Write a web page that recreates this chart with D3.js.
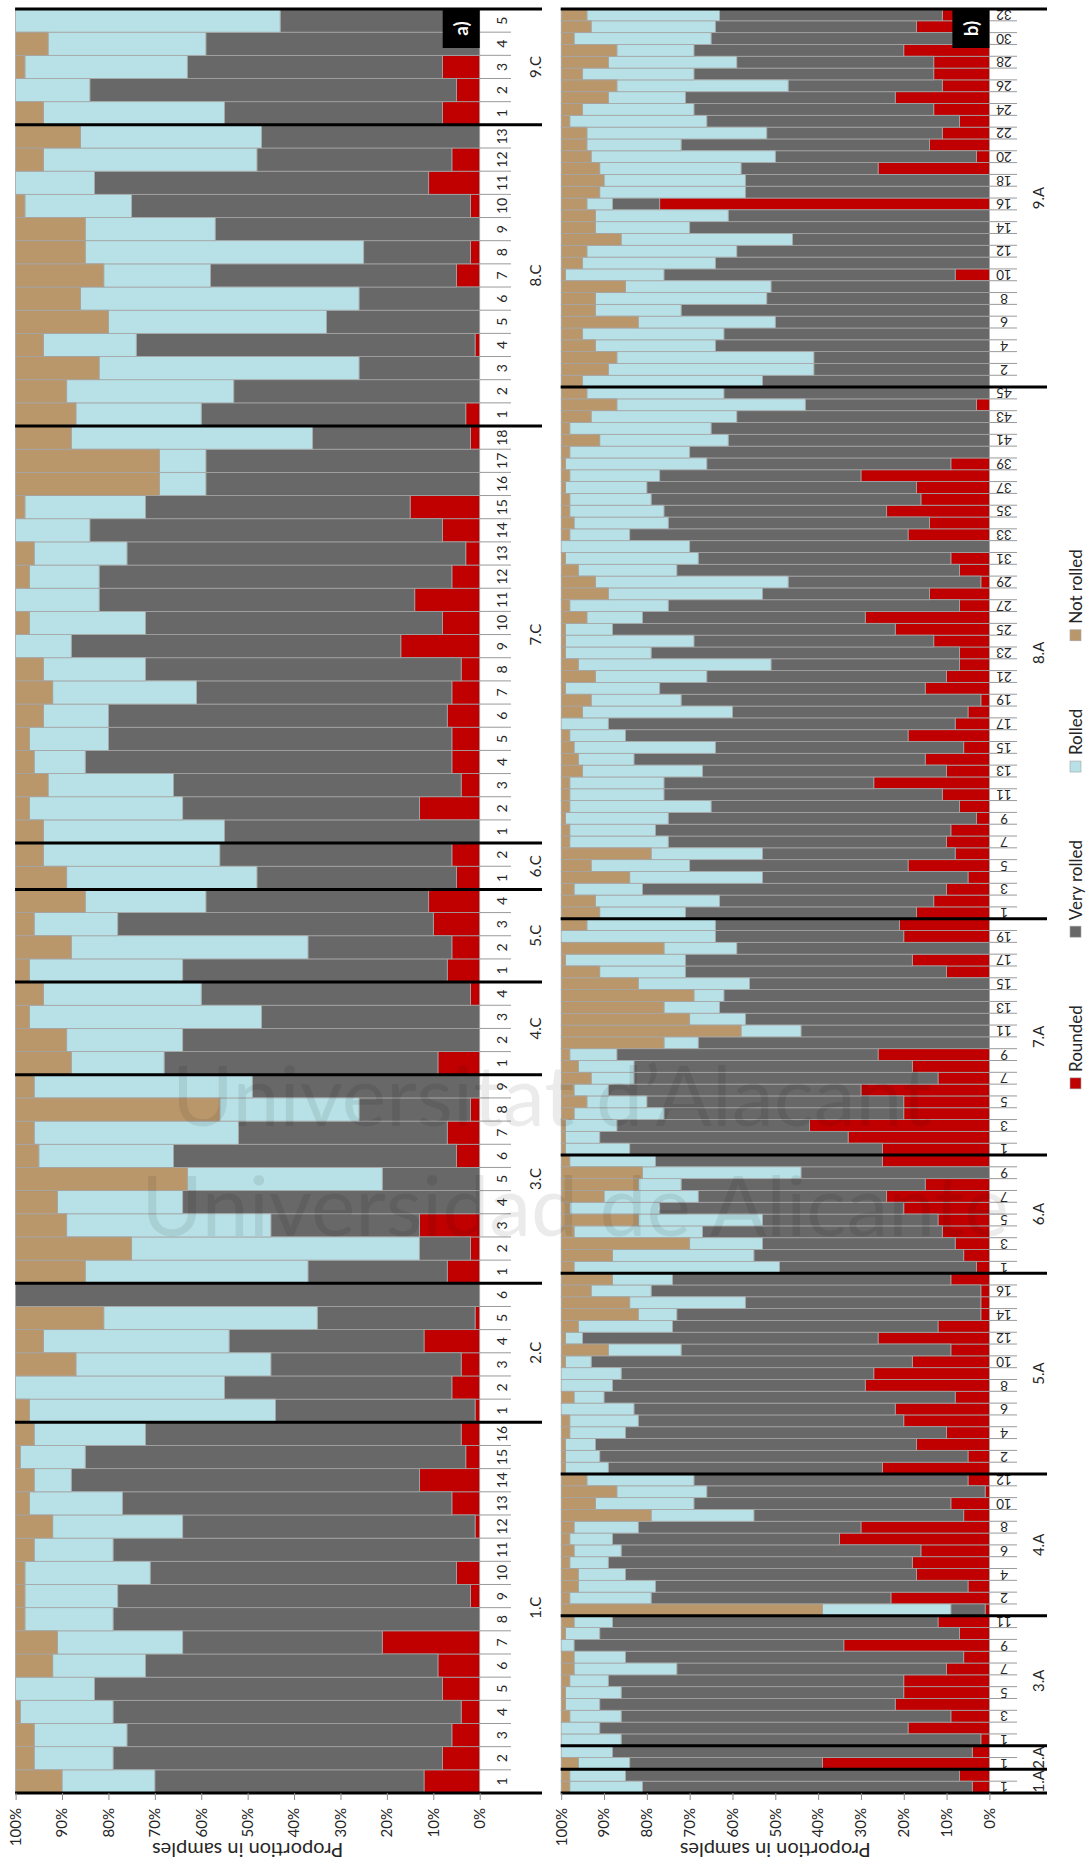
<!DOCTYPE html>
<html>
<head>
<meta charset="utf-8">
<script src="https://cdn.jsdelivr.net/npm/d3@7"></script>
<style>
  body { margin: 0; background: #fff; }
  svg { display: block; }
  text { font-family: Lato, "Open Sans", "DejaVu Sans", sans-serif; fill: #262626; }
</style>
</head>
<body>
<svg id="chart" width="1086" height="1868"></svg>
<script>
// ---- series ----
const seriesKeys = ["rounded", "veryRolled", "rolled", "notRolled"];
const seriesNames = ["Rounded", "Very rolled", "Rolled", "Not rolled"];
const seriesColors = ["#c00000", "#686868", "#b7e1e6", "#b9976b"];
const valueTicks = [0, 10, 20, 30, 40, 50, 60, 70, 80, 90, 100];

// ---- panel a: C samples ----
const groupsA = ["1.C", "2.C", "3.C", "4.C", "5.C", "6.C", "7.C", "8.C", "9.C"];
const groupSizesA = [16, 6, 9, 4, 4, 2, 18, 13, 5];
const roundedA = [
  12, 8, 6, 4, 8, 9, 21, 0, 2, 5, 0, 1, 6, 13, 3, 4,
  1, 6, 4, 12, 1, 0,
  7, 2, 13, 0, 0, 5, 7, 2, 0,
  9, 0, 0, 2,
  7, 6, 10, 11,
  5, 6,
  0, 13, 4, 6, 6, 7, 6, 4, 17, 8, 14, 6, 3, 8, 15, 0, 0, 2,
  3, 0, 0, 1, 0, 0, 5, 2, 0, 2, 11, 6, 0,
  8, 5, 8, 0, 0
];
const veryRolledA = [
  58, 71, 70, 75, 75, 63, 43, 79, 76, 66, 79, 63, 71, 75, 82, 68,
  43, 49, 41, 42, 34, 100,
  30, 11, 32, 64, 21, 61, 45, 24, 49,
  59, 64, 47, 58,
  57, 31, 68, 48,
  43, 50,
  55, 51, 62, 79, 74, 73, 55, 68, 71, 64, 68, 76, 73, 76, 57, 59, 59, 34,
  57, 53, 26, 73, 33, 26, 53, 23, 57, 73, 72, 42, 47,
  47, 79, 55, 59, 43
];
const rolledA = [
  20, 17, 20, 20, 17, 20, 27, 19, 20, 27, 17, 28, 20, 8, 14, 24,
  53, 45, 42, 40, 46, 0,
  48, 62, 44, 27, 42, 29, 44, 30, 47,
  20, 25, 50, 34,
  33, 51, 18, 26,
  41, 38,
  39, 33, 27, 11, 17, 14, 31, 22, 12, 25, 18, 15, 20, 16, 26, 10, 10, 52,
  27, 36, 56, 20, 47, 60, 23, 60, 28, 23, 17, 46, 39,
  39, 16, 35, 34, 57
];
const notRolledA = [
  10, 4, 4, 1, 0, 8, 9, 2, 2, 2, 4, 8, 3, 4, 1, 4,
  3, 0, 13, 6, 19, 0,
  15, 25, 11, 9, 37, 5, 4, 44, 4,
  12, 11, 3, 6,
  3, 12, 4, 15,
  11, 6,
  6, 3, 7, 4, 3, 6, 8, 6, 0, 3, 0, 3, 4, 0, 2, 31, 31, 12,
  13, 11, 18, 6, 20, 14, 19, 15, 15, 2, 0, 6, 14,
  6, 0, 2, 7, 0
];

// ---- panel b: A samples ----
const groupsB = ["1.A", "2.A", "3.A", "4.A", "5.A", "6.A", "7.A", "8.A", "9.A"];
const groupSizesB = [2, 2, 11, 12, 17, 10, 20, 45, 32];
const roundedB = [
  4, 7,
  39, 4,
  2, 19, 9, 22, 20, 20, 10, 6, 34, 7, 12,
  1, 23, 5, 17, 18, 16, 35, 30, 6, 9, 1, 5,
  25, 5, 17, 10, 20, 22, 8, 29, 27, 18, 9, 26, 12, 2, 2, 2, 9,
  3, 6, 8, 11, 12, 20, 24, 15, 0, 25,
  25, 33, 42, 20, 20, 30, 12, 18, 26, 0, 0, 0, 0, 0, 0, 10, 18, 0, 20, 21,
  17, 13, 10, 5, 19, 8, 10, 9, 3, 7, 11, 27, 10, 15, 6, 19, 8, 5, 2, 15,
  10, 7, 7, 13, 22, 29, 7, 14, 2, 7, 9, 0, 19, 14, 24, 16, 17, 30, 9, 0,
  0, 0, 0, 3, 0,
  0, 0, 0, 0, 0, 0, 0, 0, 0, 8, 0, 0, 0, 0, 0, 77, 0, 0, 26, 3,
  14, 11, 7, 13, 22, 11, 13, 13, 20, 3, 17, 11
];
const veryRolledB = [
  77, 78,
  45, 84,
  84, 72, 77, 69, 66, 69, 63, 79, 63, 84, 76,
  8, 56, 73, 68, 71, 70, 53, 52, 49, 60, 65, 64,
  64, 86, 75, 75, 62, 61, 82, 59, 59, 75, 63, 69, 62, 71, 55, 77, 65,
  46, 49, 45, 56, 41, 57, 44, 57, 44, 53,
  59, 58, 45, 56, 60, 59, 71, 65, 61, 68, 44, 57, 63, 62, 56, 61, 53, 59, 44, 43,
  54, 50, 71, 48, 51, 45, 65, 69, 72, 58, 65, 49, 57, 68, 58, 66, 81, 55, 70, 62,
  56, 44, 72, 56, 66, 52, 68, 39, 45, 66, 59, 70, 65, 61, 52, 63, 63, 47, 57, 70,
  61, 65, 59, 40, 62,
  53, 41, 41, 64, 62, 50, 72, 52, 51, 68, 64, 59, 46, 70, 61, 11, 57, 57, 32, 47,
  58, 41, 59, 56, 49, 36, 56, 46, 49, 62, 47, 52
];
const rolledB = [
  17, 13,
  12, 12,
  14, 9, 12, 8, 13, 9, 24, 12, 3, 8, 9,
  30, 19, 18, 11, 9, 11, 10, 15, 24, 23, 21, 25,
  10, 8, 7, 13, 16, 17, 7, 12, 14, 6, 17, 4, 22, 9, 27, 14, 14,
  48, 33, 17, 30, 29, 21, 22, 10, 37, 20,
  15, 8, 12, 21, 14, 8, 10, 13, 11, 8, 14, 13, 13, 7, 26, 20, 28, 17, 36, 30,
  20, 29, 16, 31, 23, 26, 23, 20, 24, 33, 22, 22, 28, 13, 33, 13, 11, 35, 21, 22,
  26, 45, 20, 30, 11, 13, 23, 36, 45, 23, 31, 30, 14, 22, 22, 19, 19, 21, 33, 28,
  30, 33, 34, 44, 32,
  42, 48, 46, 28, 33, 32, 20, 40, 34, 23, 31, 35, 40, 22, 31, 6, 34, 33, 33, 43,
  22, 42, 32, 26, 18, 40, 26, 30, 18, 32, 29, 31
];
const notRolledB = [
  2, 2,
  4, 0,
  0, 0, 2, 1, 1, 2, 3, 3, 0, 1, 3,
  61, 2, 4, 4, 2, 3, 2, 3, 21, 8, 13, 6,
  1, 1, 1, 2, 2, 0, 3, 0, 0, 1, 11, 1, 4, 18, 16, 7, 12,
  3, 12, 30, 3, 18, 2, 10, 18, 19, 2,
  1, 1, 1, 3, 6, 3, 7, 4, 2, 24, 42, 30, 24, 31, 18, 9, 1, 24, 0, 6,
  9, 8, 3, 16, 7, 21, 2, 2, 1, 2, 2, 2, 5, 4, 3, 2, 0, 5, 7, 1,
  8, 4, 1, 1, 1, 6, 2, 11, 8, 4, 1, 0, 2, 3, 2, 2, 1, 2, 1, 2,
  9, 2, 7, 13, 6,
  5, 11, 13, 8, 5, 18, 8, 8, 15, 1, 5, 6, 14, 8, 8, 6, 9, 10, 9, 7,
  6, 6, 2, 5, 11, 13, 5, 11, 13, 3, 7, 6
];

const axisTitle = "Proportion in samples";

// ---- drawing ----
// The figure is laid out as two stacked-column charts on a 1868 x 1086 sheet,
// then the whole sheet is turned a quarter turn counter-clockwise onto the page.
const svg = d3.select("#chart");
const sheet = svg.append("g").attr("transform", "translate(0,1868) rotate(-90)");

const catStart = 75, catEnd = 1859;   // category extent along the sheet width

const panels = [
  {
    label: "a)", groups: groupsA, sizes: groupSizesA,
    values: [roundedA, veryRolledA, rolledA, notRolledA],
    vTop: 15.6, vBase: 479.7, numV: 507, numRotated: false, numEvery: 1,
    tickEnd: 511, groupV: 540.5, sepEnd: 542, numSize: 14
  },
  {
    label: "b)", groups: groupsB, sizes: groupSizesB,
    values: [roundedB, veryRolledB, rolledB, notRolledB],
    vTop: 561.2, vBase: 989.4, numV: 1004, numRotated: true, numEvery: 2,
    tickEnd: 1017, groupV: 1043.5, sepEnd: 1047, numSize: 13.5
  }
];

panels.forEach(p => {
  const n = p.values[0].length;
  const rows = d3.range(n).map(i => {
    const r = {};
    seriesKeys.forEach((k, j) => { r[k] = p.values[j][i]; });
    return r;
  });
  const stacked = d3.stack().keys(seriesKeys)(rows);

  const x = d3.scaleBand().domain(d3.range(n)).range([catStart, catEnd]).padding(0);
  const y = d3.scaleLinear().domain([0, 100]).range([p.vBase, p.vTop]);

  const g = sheet.append("g");

  // stacked bars
  g.append("g").selectAll("g")
    .data(stacked)
    .join("g")
      .attr("fill", (d, i) => seriesColors[i])
    .selectAll("rect")
    .data(d => d.map((s, i) => ({ s, i })))
    .join("rect")
      .attr("x", d => x(d.i))
      .attr("width", x.bandwidth())
      .attr("y", d => y(d.s[1]))
      .attr("height", d => y(d.s[0]) - y(d.s[1]))
      .attr("display", d => (d.s[1] - d.s[0]) > 0 ? null : "none")
      .attr("stroke", "#a4a4a4")
      .attr("stroke-width", 0.8);

  // category tick marks between labels
  g.append("g").selectAll("line")
    .data(d3.range(n + 1))
    .join("line")
      .attr("x1", i => i < n ? x(i) : catEnd)
      .attr("x2", i => i < n ? x(i) : catEnd)
      .attr("y1", p.vBase)
      .attr("y2", p.tickEnd)
      .attr("stroke", "#9a9a9a")
      .attr("stroke-width", 1);

  // category labels (sample number within each group)
  const cats = [];
  p.sizes.forEach((size, gi) => {
    for (let k = 1; k <= size; k++) cats.push({ group: gi, num: k });
  });
  const labelled = cats.map((c, i) => ({ ...c, i })).filter(c => c.i % p.numEvery === 0);
  const numG = g.append("g").attr("font-size", p.numSize);
  if (p.numRotated) {
    numG.selectAll("text")
      .data(labelled)
      .join("text")
        .attr("transform", c => `translate(${x(c.i) + x.bandwidth() / 2},${p.numV}) rotate(-90)`)
        .attr("text-anchor", "middle")
        .attr("dy", "0.35em")
        .text(c => c.num);
  } else {
    numG.selectAll("text")
      .data(labelled)
      .join("text")
        .attr("x", c => x(c.i) + x.bandwidth() / 2)
        .attr("y", p.numV)
        .attr("text-anchor", "middle")
        .text(c => c.num);
  }

  // group boundaries and group names
  const starts = [0];
  p.sizes.forEach(s => starts.push(starts[starts.length - 1] + s));
  const pos = i => (i < n ? x(i) : catEnd);

  g.append("g").selectAll("text")
    .data(p.groups)
    .join("text")
      .attr("x", (d, gi) => (pos(starts[gi]) + pos(starts[gi + 1])) / 2)
      .attr("y", p.groupV)
      .attr("text-anchor", "middle")
      .attr("font-size", 15)
      .text(d => d);

  g.append("g").selectAll("line")
    .data(starts)
    .join("line")
      .attr("x1", i => pos(i))
      .attr("x2", i => pos(i))
      .attr("y1", p.vTop - 0.5)
      .attr("y2", p.sepEnd)
      .attr("stroke", "#000")
      .attr("stroke-width", 3);

  // value axis
  const axis = d3.axisLeft(y)
    .tickValues(valueTicks)
    .tickFormat(d => d + "%")
    .tickSize(7)
    .tickPadding(8);
  const ag = g.append("g")
    .attr("transform", `translate(${catStart},0)`)
    .call(axis);
  ag.select(".domain").remove();
  ag.selectAll(".tick line").attr("stroke", "#8c8c8c");
  ag.selectAll(".tick text")
    .attr("font-size", 15)
    .attr("font-family", "Lato, 'Open Sans', sans-serif")
    .attr("fill", "#262626");

  // axis title
  g.append("text")
    .attr("transform", `translate(25.5,${(p.vTop + p.vBase) / 2}) rotate(-90)`)
    .attr("text-anchor", "middle")
    .attr("font-size", 20)
    .text(axisTitle);

  // panel tag
  const tag = g.append("g")
    .attr("transform", `translate(${catEnd - 39},${p.vBase - 37})`);
  tag.append("rect").attr("width", 39).attr("height", 37).attr("fill", "#000");
  tag.append("text")
    .attr("x", 19.5).attr("y", 18.5)
    .attr("dy", "0.35em")
    .attr("text-anchor", "middle")
    .attr("font-size", 19)
    .attr("font-weight", "bold")
    .style("fill", "#fff")
    .text(p.label);
});

// legend, centred under panel b
const legend = sheet.append("g").attr("font-size", 17);
const items = legend.selectAll("g")
  .data(seriesNames)
  .join("g");
items.append("rect")
  .attr("y", 1070)
  .attr("width", 11)
  .attr("height", 11)
  .attr("fill", (d, i) => seriesColors[i])
  .attr("stroke", "#a4a4a4")
  .attr("stroke-width", 0.6);
items.append("text")
  .attr("x", 17)
  .attr("y", 1082)
  .text(d => d);
{
  const gap = 68;
  const widths = items.nodes().map(n => 17 + n.querySelector("text").getComputedTextLength());
  const total = d3.sum(widths) + gap * (widths.length - 1);
  let cursor = 1049 - total / 2;
  items.attr("transform", (d, i) => {
    const t = `translate(${cursor},0)`;
    cursor += widths[i] + gap;
    return t;
  });
}

// repository watermark
const mark = svg.append("g")
  .attr("font-family", "'Liberation Serif', 'DejaVu Serif', serif")
  .attr("font-size", 84)
  .style("pointer-events", "none");
mark.append("text")
  .attr("x", 552).attr("y", 1126)
  .attr("text-anchor", "middle")
  .style("fill", "#000").style("fill-opacity", 0.08)
  .text("Universitat d\u2019Alacant");
mark.append("text")
  .attr("x", 575).attr("y", 1236)
  .attr("text-anchor", "middle")
  .style("fill", "#000").style("fill-opacity", 0.08)
  .text("Universidad de Alicante");
</script>
</body>
</html>
